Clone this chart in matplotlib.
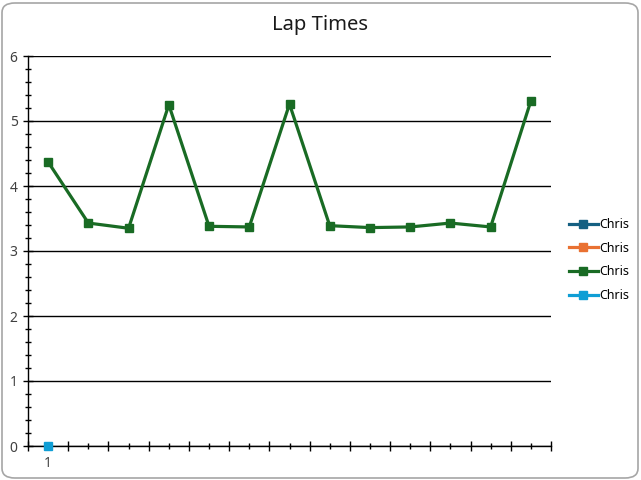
import numpy as np
import matplotlib
matplotlib.use("Agg")
import matplotlib.pyplot as plt
from matplotlib.patches import FancyBboxPatch

# lap data (one runner, four series in the sheet)
laps = list(range(1, 14))
series_names = ["Chris", "Chris", "Chris", "Chris"]
series_colors = ["#156082", "#E97132", "#196B24", "#0F9ED5"]
series1 = [np.nan] * 13
series2 = [np.nan] * 13
series3 = [4.37, 3.43, 3.35, 5.25, 3.38, 3.37, 5.26, 3.39, 3.36, 3.37, 3.43, 3.37, 5.31]
series4 = [0] + [np.nan] * 12
x_labels = ["1"] + [""] * 12

plt.rcParams["font.family"] = ["Noto Sans", "DejaVu Sans"]

fig = plt.figure(figsize=(6.41, 4.8), dpi=100)
ax = fig.add_axes([28 / 641, 1 - 446 / 480, 523 / 641, 390 / 480])

for values, name, color in zip([series1, series2, series3, series4], series_names, series_colors):
    ax.plot(laps, values, color=color, lw=2.3, marker="s", ms=6, label=name, zorder=3,
            clip_on=False)

ax.set_xlim(0.5, 13.5)
ax.set_ylim(0, 6)
ax.set_xticks(np.arange(0.5, 14, 1))
ax.set_xticklabels([])
ax.set_xticks(laps, minor=True)
ax.set_xticklabels(x_labels, minor=True)
ax.set_yticks(range(0, 7))
ax.set_yticks(np.arange(0, 6.01, 0.2), minor=True)

ax.tick_params(which="major", direction="inout", length=7, width=1, color="black",
               labelsize=10, labelcolor="#404040", pad=4)
ax.tick_params(which="minor", direction="inout", length=5, width=1, color="black",
               labelsize=10, labelcolor="#404040", pad=6)
ax.tick_params(axis="x", which="minor", pad=5)
ax.yaxis.grid(True, which="major", color="black", lw=1)
ax.set_axisbelow(True)
for side in ["top", "right"]:
    ax.spines[side].set_visible(False)
for side in ["left", "bottom"]:
    ax.spines[side].set_color("black")
    ax.spines[side].set_linewidth(1)

fig.text(0.5, 1 - 25 / 480, "Lap Times", ha="center", va="center", fontsize=14.5, color="#1a1a1a")

leg = fig.legend(loc="center left", bbox_to_anchor=(564 / 641, 1 - 260 / 480), frameon=False,
                 fontsize=9, handlelength=2.3, handletextpad=0.15, labelspacing=0.85,
                 borderaxespad=0)

border = FancyBboxPatch((2 / 641, 2 / 480), 636 / 641, 475 / 480,
                        boxstyle="round,pad=0,rounding_size=0.02", transform=fig.transFigure,
                        facecolor="none", edgecolor="#A6A6A6", lw=1.2)
fig.patches.append(border)

fig.savefig("out.png", dpi=100)
